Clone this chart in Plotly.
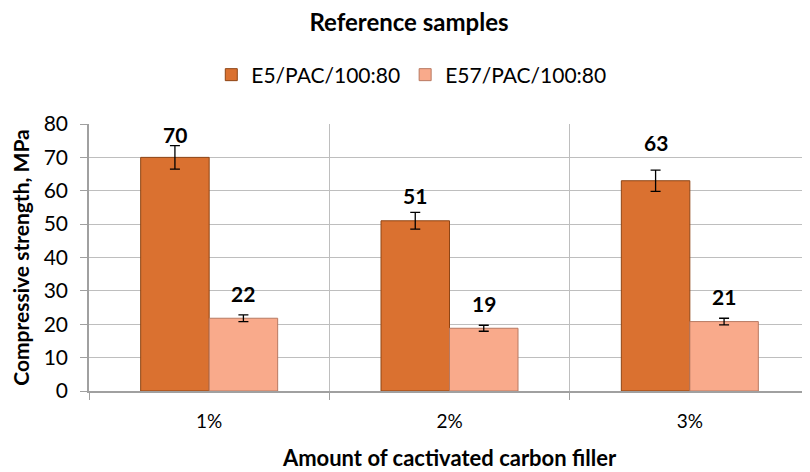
import plotly.graph_objects as go

categories = ["1%", "2%", "3%"]
series_names = ["E5/PAC/100:80", "E57/PAC/100:80"]
e5_values = [70, 51, 63]
e5_errors = [3.5, 2.5, 3.2]
e57_values = [21.8, 18.8, 20.8]
e57_errors = [1.0, 0.9, 1.0]
y_ticks = [0, 10, 20, 30, 40, 50, 60, 70, 80]

FONT = "Lato, Carlito, Calibri, sans-serif"
colors = ["#DA7130", "#F9AA8B"]
edges = ["#8E4515", "#B87A62"]

fig = go.Figure()
for name, vals, errs, col, edge in zip(series_names, [e5_values, e57_values],
                                       [e5_errors, e57_errors], colors, edges):
    fig.add_trace(go.Bar(
        x=categories, y=vals, name=name,
        marker=dict(color=col, line=dict(color=edge, width=1)),
        error_y=dict(type="data", array=errs, visible=True, color="black",
                     thickness=1.3, width=5),
    ))

# data labels (offset in px above bar top, as in reference)
label_shift = [[23, 25, 38], [25, 25, 25]]
offsets = [-0.1425, 0.1425]
for s, vals in enumerate([e5_values, e57_values]):
    for i, v in enumerate(vals):
        fig.add_annotation(
            x=i + offsets[s], y=v, xref="x", yref="y",
            text=f"{round(v)}", showarrow=False, yshift=label_shift[s][i],
            font=dict(family=FONT, size=21, color="black", weight="bold"),
        )

# page body has an 8px default margin; the figure is sized to compensate
fig.update_layout(
    width=802, height=464,
    margin=dict(l=81, r=0, t=116, b=81),
    paper_bgcolor="white", plot_bgcolor="white",
    barmode="group", bargap=0.43, bargroupgap=0.0,
    font=dict(family=FONT, color="black"),
    title=dict(text="<b>Reference samples</b>", x=0.5, xanchor="center",
               y=0.968, yanchor="middle", font=dict(size=24, family=FONT)),
    legend=dict(orientation="h", x=0.447, xanchor="center", y=1.1835, yanchor="middle",
                font=dict(size=21, family=FONT), itemwidth=30,
                traceorder="normal"),
    showlegend=True,
)
fig.update_xaxes(
    type="category", tickson="boundaries", showgrid=True, gridcolor="#BEBEBE",
    gridwidth=1.3, ticks="outside", ticklen=7, tickcolor="#A0A0A0",
    showline=True, linecolor="#A0A0A0", linewidth=1.5, automargin=False,
    tickfont=dict(size=19, family=FONT), ticklabelstandoff=12,
    title=dict(text="<b>Amount of cactivated carbon filler</b>",
               font=dict(size=22, family=FONT), standoff=20),
)
fig.update_yaxes(
    range=[0, 80], tickvals=y_ticks, showgrid=True, gridcolor="#BEBEBE",
    gridwidth=1.3, ticks="outside", ticklen=7, tickcolor="#A0A0A0",
    showline=True, linecolor="#A0A0A0", linewidth=1.5, zeroline=False,
    automargin=False, ticklabelstandoff=8,
    tickfont=dict(size=21, family=FONT),
    title=dict(text="<b>Compressive strength, MPa</b>",
               font=dict(size=21, family=FONT), standoff=8),
)

fig.write_html("out.html")
